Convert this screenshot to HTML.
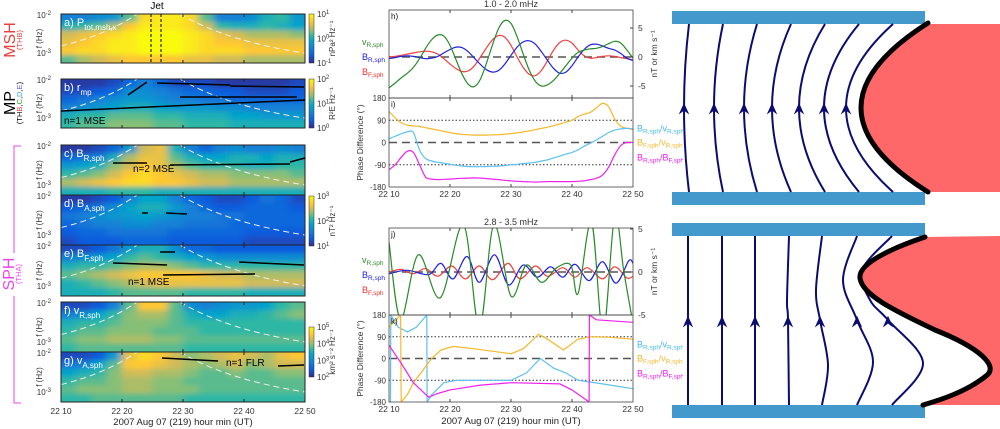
<!DOCTYPE html>
<html><head><meta charset="utf-8"><style>
body{margin:0;background:#fff;}
svg{display:block;font-family:"Liberation Sans",sans-serif;}
</style></head><body>
<svg id="fig" width="1000" height="429" viewBox="0 0 1000 429" xmlns="http://www.w3.org/2000/svg">
<defs>
<linearGradient id="parula" x1="0" y1="1" x2="0" y2="0">
<stop offset="0" stop-color="#352a87"/><stop offset="0.15" stop-color="#0f5cdd"/><stop offset="0.3" stop-color="#1481d6"/><stop offset="0.45" stop-color="#06a4ca"/><stop offset="0.55" stop-color="#2eb7a4"/><stop offset="0.65" stop-color="#87bf77"/><stop offset="0.75" stop-color="#d1bb59"/><stop offset="0.85" stop-color="#fec832"/><stop offset="1" stop-color="#f9fb0e"/>
</linearGradient>
<filter id="blur" x="-5%" y="-5%" width="110%" height="110%"><feGaussianBlur stdDeviation="4 2.5"/></filter>
</defs>
<g id="spec"></g>
<g id="lefttext">
<text x="15" y="40" font-size="16" fill="#e8403c" transform="rotate(-90 15 40)" text-anchor="middle">MSH</text>
<text x="22" y="40" font-size="7.5" fill="#e8403c" transform="rotate(-90 22 40)" text-anchor="middle">(THB)</text>
<text x="15" y="103" font-size="16" fill="#000" transform="rotate(-90 15 103)" text-anchor="middle">MP</text>
<text x="22" y="103" font-size="7.5" transform="rotate(-90 22 103)" text-anchor="middle"><tspan fill="#000">(TH</tspan><tspan fill="#e8403c">B</tspan><tspan fill="#000">,</tspan><tspan fill="#2ca02c">C</tspan><tspan fill="#000">,</tspan><tspan fill="#2aa8e0">D</tspan><tspan fill="#000">,</tspan><tspan fill="#5a5adc">E</tspan><tspan fill="#000">)</tspan></text>
<text x="14" y="274" font-size="16" fill="#ee44ee" transform="rotate(-90 14 274)" text-anchor="middle">SPH</text>
<text x="21" y="274" font-size="7.5" fill="#ee44ee" transform="rotate(-90 21 274)" text-anchor="middle">(THA)</text>
<path d="M21,146 H14 V253 M14,296 V403 H21" stroke="#ee44ee" stroke-width="1" fill="none"/>
<text x="157" y="9" font-size="10" text-anchor="middle">Jet</text>
<text x="183" y="425" font-size="9.5" text-anchor="middle" fill="#222">2007 Aug 07 (219)  hour min (UT)</text>
</g>
<g id="mid"></g>
<rect x="683" y="0" width="317" height="429" fill="#fff"/>
<g id="schem">
<path d="M928,24 Q794,108 928,192 L1000,192 L1000,24 Z" fill="#fe6868"/>
<path d="M925,237 C895,247 858,263 860,278 C862,296 900,313 935,330 C978,347 1000,366 986,376 C966,392 940,400 923,405 L1000,405 L1000,236 Z" fill="#fe6868"/>
<rect x="672" y="11" width="253" height="13" fill="#4499cc"/>
<rect x="672" y="192" width="253" height="13" fill="#4499cc"/>
<rect x="672" y="223" width="253" height="13" fill="#4499cc"/>
<rect x="672" y="405" width="253" height="13" fill="#4499cc"/>
<g id="flines" stroke="#0c0c70" stroke-width="2" fill="none"></g>
<path d="M928,23 Q794,108 928,192" stroke="#000" stroke-width="5" fill="none" stroke-linecap="round"/>
<path d="M925,237 C895,247 858,263 860,278 C862,296 900,313 935,330 C978,347 1000,366 986,376 C966,392 940,400 923,405" stroke="#000" stroke-width="5" fill="none" stroke-linecap="round"/>
</g>
</svg>
<script>
// ===== spectrogram data (intensity 0..1, rows high freq -> low freq, 16 time bins) =====
const specA = [[.3,.3,.35,.4,.6,.9,.95,.95,.9,.6,.3,.3,.35,.5,.55,.4],[.5,.55,.6,.7,.85,.95,.95,.95,.9,.75,.55,.5,.5,.55,.5,.45],[.75,.8,.85,.9,.95,1,1,1,.95,.9,.8,.75,.7,.7,.7,.65],[.8,.85,.9,.95,.95,1,1,1,.95,.9,.85,.85,.8,.8,.8,.8],[.85,.9,.9,.95,.95,1,1,1,.95,.9,.9,.9,.85,.85,.85,.85],[.6,.7,.75,.8,.85,.85,.85,.85,.8,.8,.75,.75,.7,.7,.7,.7]];
const specB = [[.05,.05,.05,.1,.2,.3,.2,.1,.1,.1,.05,.05,.05,.05,.05,.1],[.1,.1,.15,.2,.35,.35,.3,.25,.2,.2,.15,.15,.1,.1,.1,.15],[.2,.25,.3,.35,.4,.4,.35,.3,.3,.25,.25,.2,.2,.2,.2,.2],[.3,.35,.4,.45,.5,.5,.45,.4,.4,.4,.35,.35,.3,.3,.3,.3],[.5,.55,.55,.6,.6,.6,.55,.55,.5,.5,.5,.45,.45,.4,.4,.4],[.55,.6,.6,.65,.65,.65,.6,.6,.55,.55,.55,.5,.5,.5,.5,.5]];
const specC = [[.05,.05,.1,.2,.4,.75,.8,.5,.3,.2,.3,.35,.3,.3,.35,.3],[.2,.25,.3,.5,.7,.8,.8,.6,.5,.45,.45,.5,.5,.45,.5,.5],[.4,.45,.5,.65,.75,.85,.8,.7,.6,.55,.55,.55,.5,.5,.55,.55],[.55,.6,.65,.75,.85,.9,.85,.8,.75,.7,.7,.65,.65,.65,.65,.6],[.7,.75,.8,.85,.9,.9,.85,.85,.8,.75,.75,.7,.7,.7,.7,.7],[.5,.5,.5,.55,.55,.55,.5,.5,.5,.5,.5,.5,.5,.5,.5,.5]];
const specD = [[.05,.05,.1,.15,.3,.45,.45,.3,.2,.15,.1,.1,.15,.25,.2,.1],[.15,.2,.25,.35,.45,.5,.5,.4,.3,.2,.15,.15,.2,.2,.2,.15],[.25,.3,.35,.4,.4,.45,.4,.35,.3,.3,.25,.25,.2,.2,.2,.2],[.2,.25,.3,.3,.35,.35,.3,.3,.25,.25,.25,.2,.2,.2,.2,.2],[.15,.2,.2,.25,.25,.25,.25,.2,.2,.2,.2,.2,.15,.15,.15,.15],[.1,.15,.15,.15,.2,.2,.2,.15,.15,.15,.15,.15,.1,.1,.1,.1]];
const specE = [[.1,.1,.15,.25,.4,.5,.5,.35,.2,.2,.15,.15,.15,.15,.15,.15],[.3,.35,.4,.45,.55,.6,.55,.5,.45,.4,.35,.35,.35,.35,.35,.35],[.5,.55,.55,.6,.65,.7,.7,.65,.6,.55,.55,.55,.55,.55,.55,.55],[.6,.65,.7,.75,.8,.85,.85,.85,.85,.8,.75,.75,.7,.7,.7,.7],[.5,.55,.6,.65,.7,.75,.8,.8,.8,.8,.8,.8,.75,.75,.75,.75],[.5,.5,.5,.55,.6,.6,.6,.6,.55,.55,.55,.55,.5,.5,.5,.5]];
const specF = [[.1,.1,.15,.3,.6,.85,.85,.6,.35,.3,.35,.4,.4,.45,.55,.6],[.3,.35,.45,.55,.65,.7,.7,.6,.5,.45,.45,.5,.5,.55,.6,.65],[.5,.55,.55,.6,.65,.65,.65,.6,.55,.55,.55,.55,.55,.55,.55,.55],[.55,.6,.6,.65,.65,.65,.6,.6,.6,.55,.55,.55,.55,.55,.55,.55],[.6,.65,.65,.7,.7,.7,.65,.65,.6,.6,.6,.6,.6,.6,.6,.6],[.55,.6,.6,.6,.6,.6,.6,.6,.55,.55,.55,.55,.55,.55,.55,.55]];
const specG = [[.1,.1,.15,.4,.8,.9,.85,.75,.65,.7,.75,.8,.75,.7,.8,.85],[.25,.3,.45,.6,.85,.85,.8,.75,.7,.65,.7,.75,.65,.7,.75,.75],[.45,.5,.55,.65,.75,.75,.7,.7,.65,.6,.6,.65,.6,.6,.65,.65],[.55,.6,.6,.65,.7,.7,.65,.65,.6,.6,.6,.6,.6,.6,.6,.6],[.6,.65,.65,.65,.7,.7,.65,.65,.65,.6,.6,.6,.6,.6,.6,.6],[.55,.55,.6,.6,.6,.6,.6,.6,.55,.55,.55,.55,.55,.55,.55,.55]];
const specLabels = ['a) P','b) r','c) B','d) B','e) B','f) v','g) v'];
const specSubs = ['tot,msh,x','mp','R,sph','A,sph','F,sph','R,sph','A,sph'];
const timeTicks = ['22 10','22 20','22 30','22 40','22 50'];
// ===== waveform data, 1.0-2.0 mHz (per minute, 0..40 min after 22:10) =====
const hV = [-5.3,-4.5,-3.6,-2.8,-1.8,-0.3,1.5,3.0,3.8,3.6,2.0,-0.5,-3.0,-4.7,-5.1,-3.8,-1.0,2.2,5.0,6.3,5.8,3.5,0.5,-2.3,-4.2,-5.0,-4.8,-4.0,-2.8,-1.5,-0.2,0.8,1.2,1.4,1.5,1.8,2.3,2.7,2.4,1.2,-0.2];
const hBR = [-0.3,-0.1,0.1,0.2,0.1,-0.1,-0.3,-0.2,0.1,0.7,1.3,1.7,1.6,0.9,-0.2,-1.3,-2.2,-2.6,-2.3,-1.2,0.3,1.7,2.6,2.8,2.2,0.9,-0.6,-2.0,-2.8,-2.6,-1.5,0.0,1.3,2.1,2.2,1.9,1.5,1.2,0.6,-0.2,-0.6];
const hBF = [0,0.1,0.3,0.5,0.7,0.9,1.0,0.9,0.5,-0.3,-1.2,-2.0,-2.5,-2.4,-1.5,0.0,1.6,3.0,3.7,3.4,2.0,0.0,-1.8,-3.0,-3.2,-2.3,-0.6,1.2,2.5,2.9,2.4,1.2,0.2,-0.2,-0.1,0.1,0.2,0.1,-0.1,-0.3,-0.5];
const iOrange = [125,100,80,70,67,65,60,55,50,45,40,36,33,31,30,30,30,31,32,34,36,39,43,47,52,57,62,68,75,82,90,105,115,122,140,158,145,95,65,58,52];
const iCyan = [15,25,35,43,40,-30,-65,-75,-80,-84,-88,-92,-95,-97,-98,-98,-97,-96,-95,-93,-90,-88,-85,-83,-80,-75,-70,-62,-55,-47,-40,-30,-15,-3,10,25,40,50,55,57,55];
const iMag = [-110,-90,-60,-35,-40,-90,-140,-148,-150,-149,-148,-146,-145,-144,-143,-144,-146,-148,-150,-153,-155,-157,-158,-159,-160,-159,-158,-158,-158,-158,-158,-157,-155,-150,-145,-132,-100,-50,-12,0,0];
// ===== 2.8-3.5 mHz knots (time in min, value) =====
const jVt = [0,1.9,4.8,8.4,12.2,14.8,17.2,20.0,22.5,25.0,27.5,29.8,31.0,33.2,35.1,37.0,38.5,40];
const jVv = [3.5,-5.5,2.0,-3.0,5.5,-6.5,5.5,-2.8,0.8,-1.2,0.5,0.8,-2.5,5.8,-7.0,6.5,0,-6];
const jBRt = [0,3,6.5,8.5,10.5,12.8,14.8,17.3,19.6,22,24.3,26.5,28.5,30.5,32.8,35,37.2,39.3,40];
const jBRv = [-0.2,0.2,-0.3,1.0,-0.8,1.8,-1.2,2.0,-1.5,0.8,-0.6,0.6,-0.6,0.9,-1.0,1.2,-1.3,1.3,1.0];
const jBFt = [0,2,4,6,8,10.3,12.5,14.8,17,19.5,21.5,24,26,28.5,30.5,32.5,35,37,39,40];
const jBFv = [0,0.3,-0.2,0.4,-0.5,0.7,-0.8,0.7,-0.9,1.0,-0.8,0.7,-0.5,0.5,-0.6,0.5,-0.8,0.6,-0.7,-0.5];
const kCt = [0,0.25,0.3,1.5,3,4.5,6.2,6.25,7,9,11,14,20,22.5,24.8,27,29,31,35,40];
const kCv = [-180,-180,180,130,110,130,180,-180,-150,-100,-90,-90,-90,-60,0,-40,-60,-90,-105,-125];
const kOt = [0,1.9,2,3,4,5.5,7,8.5,10.5,14,20,22,24.5,26,28.6,31,33,36,40];
const kOv = [130,180,-180,-150,-100,-50,0,35,50,40,20,40,100,80,35,80,90,88,80];
const kMt = [0,2,4,6.5,8,10,15,20,28,30,32.8,32.85,34,40];
const kMv = [55,-20,-100,-160,-145,-130,-110,-100,-105,-130,-180,180,160,150];

const NS='http://www.w3.org/2000/svg';
function mk(tag,attrs,parent){const e=document.createElementNS(NS,tag);for(const k in attrs)e.setAttribute(k,attrs[k]);parent.appendChild(e);return e;}
function txt(s,attrs,parent){const e=mk('text',attrs,parent);e.textContent=s;return e;}
const stops=[[0,[53,42,135]],[0.15,[15,92,221]],[0.3,[20,129,214]],[0.45,[6,164,202]],[0.55,[46,183,164]],[0.65,[135,191,119]],[0.75,[209,187,89]],[0.85,[254,200,50]],[1,[249,251,14]]];
function cmap(v){v=Math.max(0,Math.min(1,v));for(let i=1;i<stops.length;i++){if(v<=stops[i][0]){const a=stops[i-1],b=stops[i],f=(v-a[0])/(b[0]-a[0]);return 'rgb('+a[1].map((c,j)=>Math.round(c+(b[1][j]-c)*f)).join(',')+')';}}return 'rgb(249,251,14)';}
function crPath(pts){let d=`M${pts[0][0].toFixed(1)},${pts[0][1].toFixed(1)}`;for(let i=0;i<pts.length-1;i++){const p0=pts[Math.max(0,i-1)],p1=pts[i],p2=pts[i+1],p3=pts[Math.min(pts.length-1,i+2)];d+=` C${(p1[0]+(p2[0]-p0[0])/6).toFixed(1)},${(p1[1]+(p2[1]-p0[1])/6).toFixed(1)} ${(p2[0]-(p3[0]-p1[0])/6).toFixed(1)},${(p2[1]-(p3[1]-p1[1])/6).toFixed(1)} ${p2[0].toFixed(1)},${p2[1].toFixed(1)}`;}return d;}
function linPath(pts){return 'M'+pts.map(p=>p[0].toFixed(1)+','+p[1].toFixed(1)).join(' L');}

// ----- spectrograms -----
const SX0=61,SX1=305;
function xS(t){return SX0+t*(SX1-SX0)/40;}
const spec=document.getElementById('spec');
const panels=[[specA,14,63],[specB,79,128],[specC,145,195],[specD,195,245],[specE,245,296],[specF,302,352],[specG,352,402]];
panels.forEach((p,pi)=>{
  const [grid,y0,y1]=p;
  const g=mk('g',{},spec);
  
  
  const cp=mk('clipPath',{id:'cp'+pi},g);mk('rect',{x:SX0,y:y0,width:SX1-SX0,height:y1-y0},cp);
  const cg=mk('g',{'clip-path':'url(#cp'+pi+')'},g);
  const bg=mk('g',{filter:'url(#blur)'},cg);
  const nr=grid.length,nc=grid[0].length,cw=(SX1-SX0)/nc,ch=(y1-y0)/nr;
  grid.forEach((row,r)=>row.forEach((v,c)=>{
    let x=SX0+c*cw,y=y0+r*ch,w=cw+0.5,h=ch+0.5;
    if(c===0){x-=10;w+=10;} if(c===nc-1)w+=10; if(r===0){y-=10;h+=10;} if(r===nr-1)h+=10;
    const cell=mk('rect',{x:x,y:y,width:w,height:h,fill:cmap(v)},bg);
    
    
  }));
  const H=y1-y0;
  const d1=mk('path',{d:`M${SX0},${y0+H*0.65} Q${xS(7)},${y0+H*0.45} ${xS(12.5)},${y0}`,stroke:'#eee','stroke-width':1,'stroke-dasharray':'6 4',fill:'none'},cg);
  
  
  const d2=mk('path',{d:`M${xS(19.5)},${y0} Q${xS(27)},${y0+H*0.55} ${SX1},${y0+H*0.8}`,stroke:'#eee','stroke-width':1,'stroke-dasharray':'6 4',fill:'none'},cg);
  
  
  const fr=mk('rect',{x:SX0,y:y0,width:SX1-SX0,height:H,fill:'none',stroke:'#222','stroke-width':1},g);
  
  
  [10,20,30].forEach(t=>{mk('line',{x1:xS(t),x2:xS(t),y1:y0,y2:y0+3,stroke:'#222'},g);mk('line',{x1:xS(t),x2:xS(t),y1:y1,y2:y1-3,stroke:'#222'},g);});
  const lab=txt('',{x:64,y:y0+12,fill:'#fff','font-size':11},g);
  
  
  const t1=mk('tspan',{},lab);t1.textContent=specLabels[pi];
  const t2=mk('tspan',{'font-size':8,dy:4},lab);t2.textContent=specSubs[pi];
  const tk=txt('10',{x:51,y:y0+4,'font-size':8,fill:'#333','text-anchor':'end'},g);
  
  
  mk('tspan',{dy:-3,'font-size':6},tk).textContent='-2';
  const tk2=txt('10',{x:51,y:y0+H*0.8+3,'font-size':8,fill:'#333','text-anchor':'end'},g);
  
  
  mk('tspan',{dy:-3,'font-size':6},tk2).textContent='-3';
  const yl=txt('f (Hz)',{x:42,y:y0+H/2,'font-size':8,fill:'#333','text-anchor':'middle',transform:`rotate(-90 42 ${y0+H/2})`},g);
  
  
});
// jet lines
[151,161].forEach(x=>{const l=mk('line',{x1:x,x2:x,y1:14,y2:63,stroke:'#000','stroke-dasharray':'3 2'},spec);});
// black mode ridge lines
const blk=[[61,111,305,100],[128,95,147,82],[157,83,230,85],[230,86,304,87],[180,97,297,97],[113,163,147,163],[170,165,290,164],[290,162,305,158],[142,213,148,213],[166,213,187,214],[113,263,167,265],[160,252,175,252],[163,275,255,274],[239,262,304,265],[162,358,218,361],[278,366,304,365]];
blk.forEach(b=>{const l=mk('line',{x1:b[0],y1:b[1],x2:b[2],y2:b[3],stroke:'#000','stroke-width':1.5},spec);});
[['n=1 MSE',64,124],['n=2 MSE',133,172],['n=1 MSE',128,285],['n=1 FLR',226,366]].forEach(a=>{const t=txt(a[0],{x:a[1],y:a[2],'font-size':10,fill:'#000'},spec);});
timeTicks.forEach((s,i)=>{const t=txt(s,{x:xS(i*10),y:414,'font-size':8.5,fill:'#333','text-anchor':'middle'},spec);});
// colorbars
[[14,63,['10|1','10|0','10|-1'],'nPa² Hz⁻¹'],[79,128,['10|2','10|1','10|0'],'R²E Hz⁻¹'],[196,246,['10|3','10|2','10|1'],'nT² Hz⁻¹'],[327,377,['10|5','10|4','10|3','10|2'],'km² s⁻² Hz⁻¹']].forEach(c=>{
  const [y0,y1,labs,unit]=c;
  const r=mk('rect',{x:309,y:y0,width:5,height:y1-y0,fill:'url(#parula)',stroke:'#333','stroke-width':0.5},spec);
  
  
  labs.forEach((l,i)=>{const [b,e]=l.split('|');const y=y0+(y1-y0)*i/(labs.length-1)+3;const t=txt(b,{x:317,y:y,'font-size':8,fill:'#333'},spec);mk('tspan',{dy:-3,'font-size':6},t).textContent=e;});
  const ym=(y0+y1)/2;const t=txt(unit,{x:335,y:ym,'font-size':8,fill:'#333','text-anchor':'middle',transform:`rotate(-90 335 ${ym})`},spec);
  
  
});

// ----- waveform / phase panels -----
const MX0=389,MX1=633;
function xT(t){return MX0+t*(MX1-MX0)/40;}
const mid=document.getElementById('mid');
function panel(y0,y1,name){const g=mk('g',{},mid);const id='mc'+y0;const cp=mk('clipPath',{id:id},g);mk('rect',{x:MX0,y:y0,width:MX1-MX0,height:y1-y0},cp);const inner=mk('g',{'clip-path':`url(#${id})`},g);return [g,inner];}
function frame(g,y0,y1){const r=mk('rect',{x:MX0,y:y0,width:MX1-MX0,height:y1-y0,fill:'none',stroke:'#444','stroke-width':0.8},g);[10,20,30].forEach(t=>{mk('line',{x1:xT(t),x2:xT(t),y1:y0,y2:y0+3,stroke:'#444'},g);mk('line',{x1:xT(t),x2:xT(t),y1:y1,y2:y1-3,stroke:'#444'},g);});}
function series(inner,pts,color,name,lin){const p=mk('path',{d:lin?linPath(pts):crPath(pts),stroke:color,'stroke-width':1.2,fill:'none'},inner);}
function hline(inner,y,dash,name){const l=mk('line',{x1:MX0,x2:MX1,y1:y,y2:y,stroke:dash==='d'?'#555':'#333','stroke-width':dash==='d'?1.5:1,'stroke-dasharray':dash==='d'?'8 5':'1.5 2'},inner);}
function wavePanel(y0,y1,yz,sc,title,tag,data){
  const [g,inner]=panel(y0,y1,'waveform-panel-'+tag);
  const yv=v=>yz-v*sc;
  hline(inner,yz,'d','zero-line');
  data.forEach(s=>series(inner,s[0],s[1],s[2]));
  frame(g,y0,y1);
  const tt=txt(title,{x:511,y:y0-3,'font-size':9,fill:'#333','text-anchor':'middle'},g);
  txt(tag+')',{x:391,y:y0+9,'font-size':8,fill:'#111'},g);
  [[5,'5'],[0,'0'],[-5,'-5']].forEach(a=>{const t=txt(a[1],{x:638,y:yv(a[0])+3,'font-size':8.5,fill:'#333'},g);mk('line',{x1:MX1,x2:MX1-3,y1:yv(a[0]),y2:yv(a[0]),stroke:'#444'},g);});
  const ym=(y0+y1)/2;const u=txt('nT or km s⁻¹',{x:657,y:ym,'font-size':8.5,fill:'#333','text-anchor':'middle',transform:`rotate(-90 657 ${ym})`},g);
  [['v','R,sph','#2a8a2a',y0+35],['B','R,sph','#2020e0',y0+50],['B','F,sph','#f03030',y0+65]].forEach(l=>{const t=txt(l[0],{x:362,y:l[3],'font-size':9,fill:l[2]},g);mk('tspan',{'font-size':6.5,dy:2},t).textContent=l[1];});
}
function phasePanel(y0,y1,tag,data,lin,ticks){
  const [g,inner]=panel(y0,y1,'phase-panel-'+tag);
  const yz=(y0+y1)/2,sc=(y1-y0)/360;const yp=p=>yz-p*sc;
  hline(inner,yp(90),'o','plus-90-line');hline(inner,yp(-90),'o','minus-90-line');hline(inner,yz,'d','zero-line');
  data.forEach(s=>series(inner,s[0](yp),s[1],s[2],lin));
  frame(g,y0,y1);
  txt(tag+')',{x:391,y:y0+9,'font-size':8,fill:'#111'},g);
  [180,90,0,-90,-180].forEach(p=>{const t=txt(String(p),{x:386,y:yp(p)+3,'font-size':8,fill:'#333','text-anchor':'end'},g);});
  const t=txt('Phase Difference (°)',{x:363,y:yz,'font-size':8.5,fill:'#333','text-anchor':'middle',transform:`rotate(-90 363 ${yz})`},g);
  [['B','R,sph','/v','R,sph','#49b8ec',yz-11],['B','F,sph','/v','R,sph','#f5b82a',yz+3],['B','R,sph','/B','F,sph','#ee22ee',yz+18]].forEach(l=>{const e=txt(l[0],{x:637,y:l[5],'font-size':9,fill:l[4]},g);mk('tspan',{'font-size':6.5,dy:2},e).textContent=l[1];mk('tspan',{'font-size':9,dy:-2},e).textContent=l[2];mk('tspan',{'font-size':6.5,dy:2},e).textContent=l[3];});
  if(ticks){timeTicks.forEach((s,i)=>{const t=txt(s,{x:xT(i*10),y:y1+10,'font-size':8.5,fill:'#333','text-anchor':'middle'},g);});}
}
const byMin=(arr,f)=>arr.map((v,i)=>[xT(i),f(v)]);
const knots=(ts,vs,f)=>ts.map((t,i)=>[xT(t),f(vs[i])]);
const yH=v=>57-v*5.8, yJ=v=>272-v*8.6;
wavePanel(10,98,57,5.8,'1.0 - 2.0 mHz','h',[[byMin(hBF,yH),'#f04040','series-bf-h'],[byMin(hBR,yH),'#2020e0','series-br-h'],[byMin(hV,yH),'#2a8a2a','series-vr-h']]);
phasePanel(98,187,'i',[[f=>byMin(iOrange,f),'#f5b82a','phase-bf-vr-i'],[f=>byMin(iCyan,f),'#5cc0f0','phase-br-vr-i'],[f=>byMin(iMag,f),'#ee22ee','phase-br-bf-i']],false,true);
wavePanel(228,315,272,8.6,'2.8 - 3.5 mHz','j',[[knots(jBFt,jBFv,yJ),'#f04040','series-bf-j'],[knots(jBRt,jBRv,yJ),'#2020e0','series-br-j'],[knots(jVt,jVv,yJ),'#2a8a2a','series-vr-j']]);
phasePanel(315,402,'k',[[f=>knots(kCt,kCv,f),'#5cc0f0','phase-br-vr-k'],[f=>knots(kOt,kOv,f),'#f5b82a','phase-bf-vr-k'],[f=>knots(kMt,kMv,f),'#ee22ee','phase-br-bf-k']],true,true);
const xt=txt('2007 Aug 07 (219)  hour min (UT)',{x:511,y:424,'font-size':9.5,fill:'#222','text-anchor':'middle'},mid);



// ----- schematic field lines -----
const fl=document.getElementById('flines');
function arrow(x,y){const a=mk('path',{d:`M${x-4},${y+7} L${x},${y-2} L${x+4},${y+7} L${x},${y+4} Z`,fill:'#0c0c70','stroke-width':1},fl);}
const topX=[689,723,757,791,825,859,893], midX=[684,714,744,772,799,824,846];
topX.forEach((x,i)=>{const c=2*midX[i]-x;const p=mk('path',{d:`M${x},24 Q${c},108 ${x},192`},fl);arrow(midX[i],106);});
const bot=[[[688,236],[688,320],[688,405]],[[722,236],[722,320],[722,405]],[[755,236],[755,320],[755,405]],[[789,236],[787,300],[788,320],[789,405]],[[822,236],[816,290],[820,320],[828,365],[822,405]],[[857,236],[843,280],[857,320],[873,362],[857,405]],[[892,236],[862,270],[870,300],[888,320],[923,363],[892,405]]];
const arrowX=[688,722,755,788,820,857,888];
bot.forEach((pts,i)=>{const p=mk('path',{d:crPath(pts)},fl);arrow(arrowX[i],319);});
</script>
</body></html>
